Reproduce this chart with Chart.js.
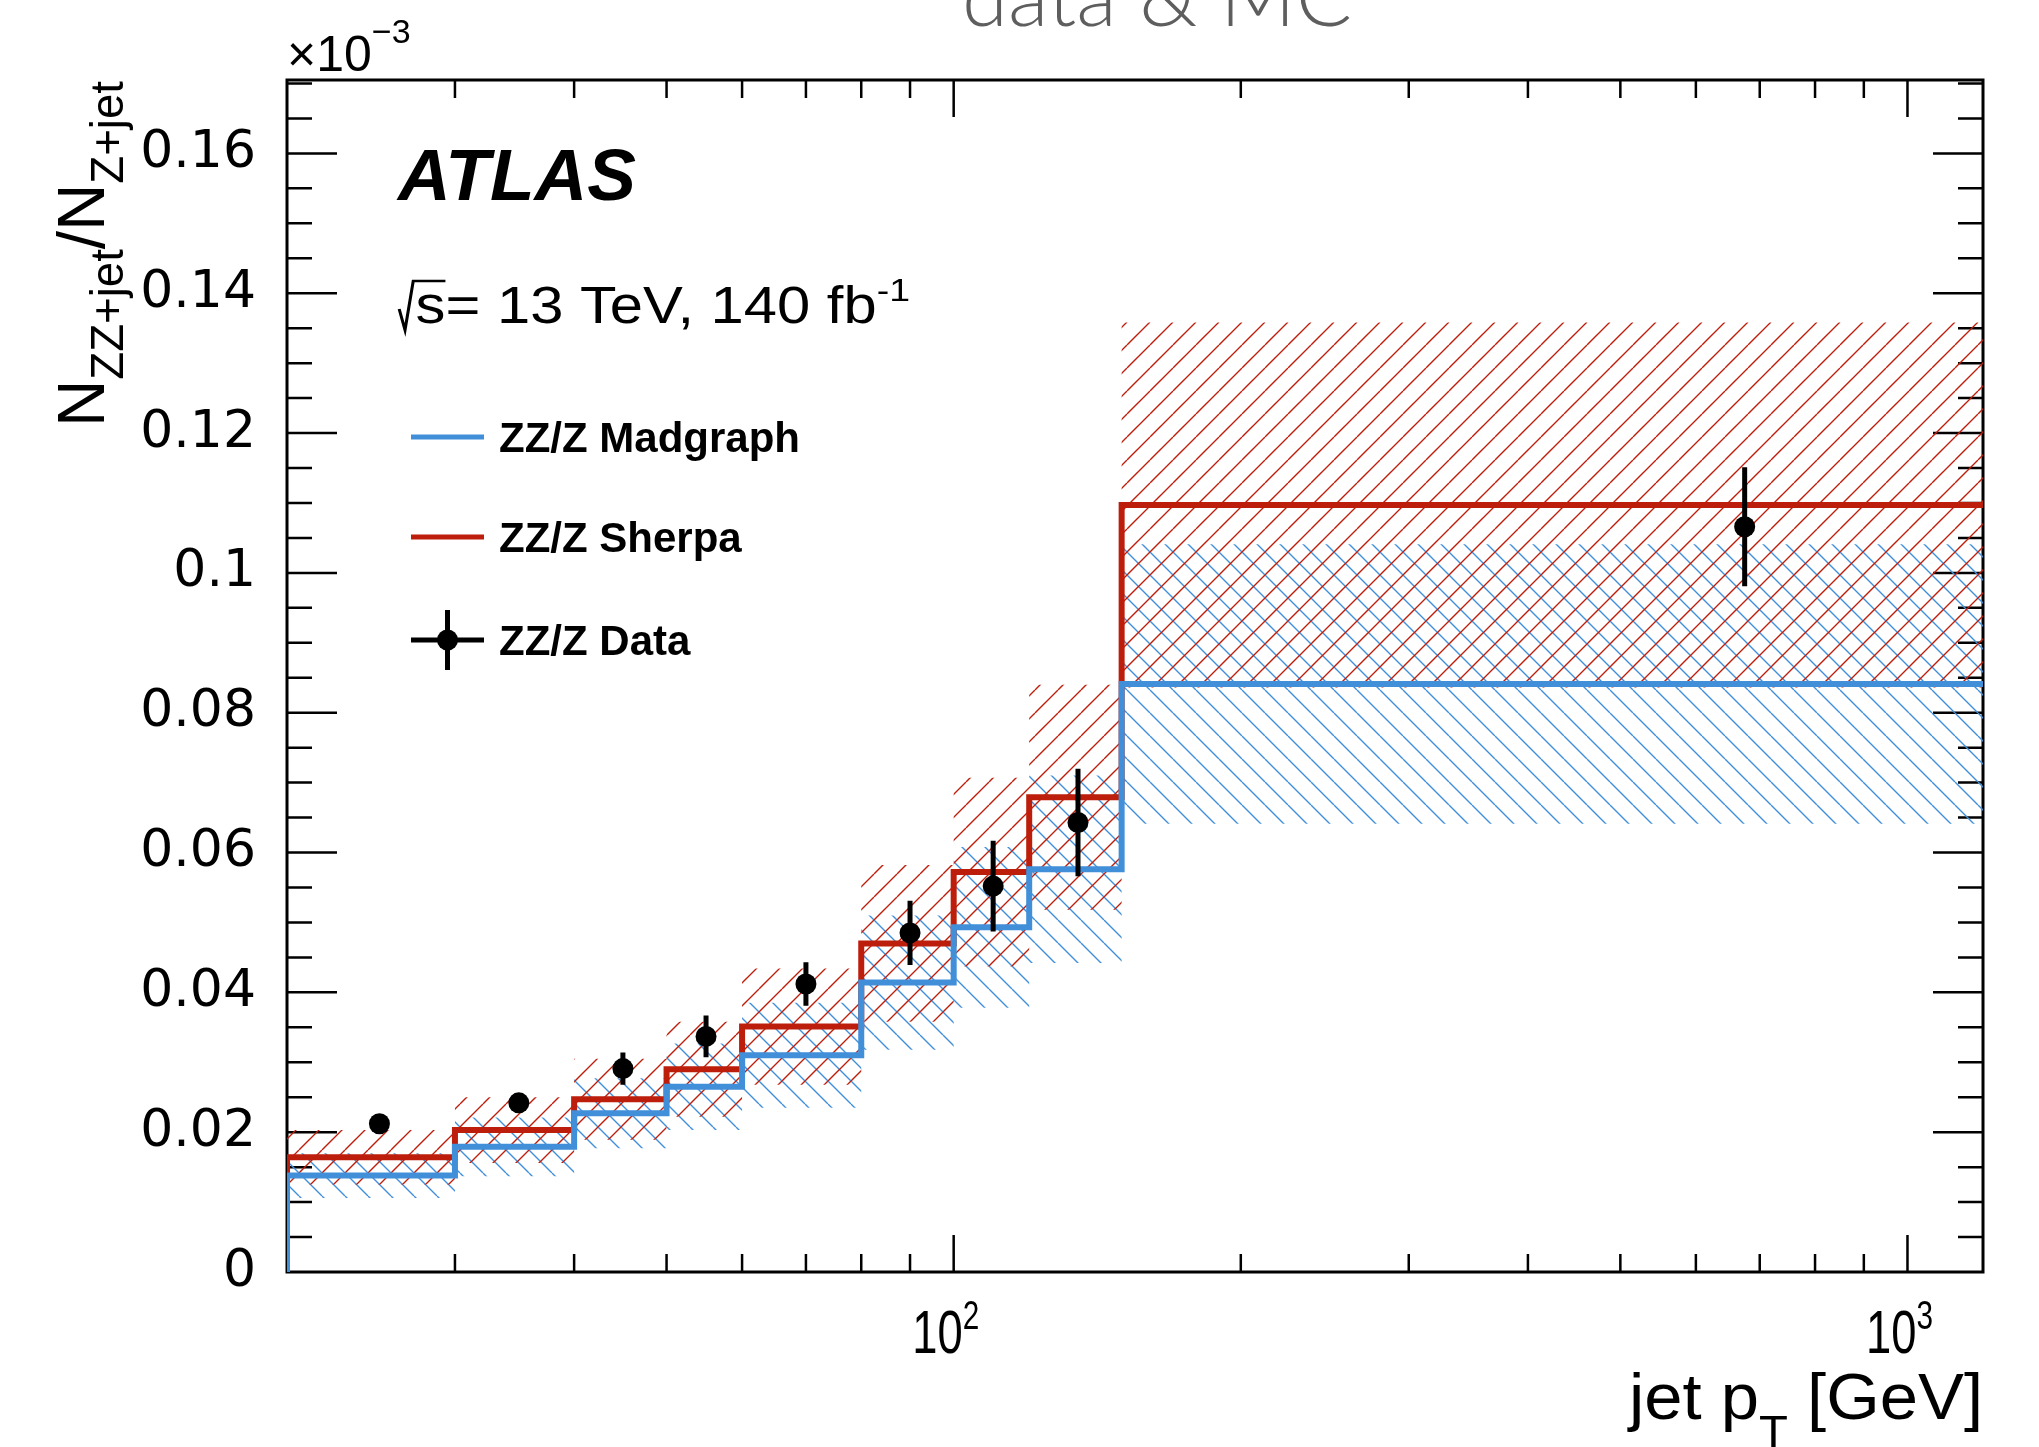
<!DOCTYPE html>
<html>
<head>
<meta charset="utf-8">
<script src="https://cdn.jsdelivr.net/npm/chart.js@4.4.1/dist/chart.umd.min.js"></script>
<style>
  html, body { margin: 0; padding: 0; background: #fff; overflow: hidden; }
  canvas { display: block; }
</style>
</head>
<body>
<canvas id="ratioChart" width="2039" height="1447"></canvas>
<script>
// jet pT bin edges [GeV]
const binEdges = [20, 30, 40, 50, 60, 80, 100, 120, 150, 1200];

// ZZ+jet / Z+jet ratio per bin (axis units, x10^-3)
const sherpaRatio = [0.0164, 0.0203, 0.0247, 0.0290, 0.0351, 0.0470, 0.0572, 0.0679, 0.1097];
const sherpaUnc   = [0.0039, 0.0047, 0.0058, 0.0068, 0.0083, 0.0112, 0.0135, 0.0161, 0.0261];
const madgraphRatio = [0.0138, 0.0179, 0.0227, 0.0265, 0.0310, 0.0414, 0.0493, 0.0576, 0.0841];
const madgraphUnc   = [0.0032, 0.0042, 0.0050, 0.0062, 0.0075, 0.0096, 0.0115, 0.0134, 0.0200];

// measured points at the bin centres
const dataPt    = [25, 35, 45, 55, 70, 90, 110, 135, 675];
const dataRatio = [0.0212, 0.0242, 0.0291, 0.0337, 0.0412, 0.0485, 0.0552, 0.0643, 0.1066];
const dataErr   = [0.0008, 0.0010, 0.0023, 0.0030, 0.0031, 0.0046, 0.0065, 0.0077, 0.0085];

// axis setup
const xMin = 20, xMax = 1200;
const yMax = 0.1705, yStep = 0.02, yMinorStep = 0.005;

const RED = '#bd1e0b';
const BLUE = '#428fd9';
const FONT = 'Liberation Sans, Arial, Helvetica, sans-serif';

const canvas = document.getElementById('ratioChart');
const baseCtx = canvas.getContext('2d');

// diagonal hatching like ROOT fill styles
function hatch(color, rising) {
    const s = 23;
    const tile = document.createElement('canvas');
    tile.width = tile.height = s;
    const g = tile.getContext('2d');
    g.strokeStyle = color;
    g.lineWidth = 1.4;
    g.beginPath();
    for (const o of [-s, 0, s]) {
        if (rising) { g.moveTo(o, s); g.lineTo(o + s, 0); }
        else { g.moveTo(o, 0); g.lineTo(o + s, s); }
    }
    g.stroke();
    return baseCtx.createPattern(tile, 'repeat');
}

// one point per lower bin edge plus the upper edge; stepped lines hold each value to the next edge
function stepPoints(vals) {
    const pts = vals.map((v, i) => ({ x: binEdges[i], y: v }));
    pts.push({ x: binEdges[binEdges.length - 1], y: vals[vals.length - 1] });
    return pts;
}
const histo = vals => [{ x: binEdges[0], y: 0 }, ...stepPoints(vals)];
const upper = (vals, unc) => stepPoints(vals.map((v, i) => v + unc[i]));
const lower = (vals, unc) => stepPoints(vals.map((v, i) => v - unc[i]));

// text with sub/superscripts, optionally squeezed to a given width
function drawRich(ctx, parts, x, y, opt = {}) {
    let total = 0;
    for (const p of parts) {
        ctx.font = p.font;
        p.w = ctx.measureText(p.t).width + (p.rad || 0);
        total += p.w;
    }
    const sx = opt.width ? opt.width / total : 1;
    const span = total * sx;
    const x0 = opt.align === 'right' ? x - span : opt.align === 'center' ? x - span / 2 : x;
    ctx.save();
    ctx.translate(x0, y);
    ctx.scale(sx, 1);
    ctx.fillStyle = opt.color || '#000';
    ctx.strokeStyle = opt.color || '#000';
    ctx.textAlign = 'left';
    ctx.textBaseline = 'alphabetic';
    let cx = 0;
    for (const p of parts) {
        ctx.font = p.font;
        if (p.rad) {
            ctx.lineWidth = 2.6;
            ctx.beginPath();
            ctx.moveTo(cx + 1, -14);
            ctx.lineTo(cx + 6, 7);
            ctx.lineTo(cx + p.rad - 2, -42);
            ctx.lineTo(cx + p.w, -42);
            ctx.stroke();
            ctx.fillText(p.t, cx + p.rad, p.dy || 0);
        } else {
            ctx.fillText(p.t, cx, p.dy || 0);
        }
        cx += p.w;
    }
    ctx.restore();
}

const atlasDecor = {
    id: 'atlasDecor',
    beforeDatasetsDraw(chart) {
        const { ctx, chartArea: a, scales: { x, y } } = chart;
        ctx.save();
        ctx.strokeStyle = '#000';
        ctx.lineWidth = 3;
        ctx.strokeRect(a.left, a.top, a.right - a.left, a.bottom - a.top);

        // ticks point inwards on all four sides
        ctx.lineWidth = 2.5;
        ctx.beginPath();
        for (const t of x.ticks) {
            const m = t.value / Math.pow(10, Math.floor(Math.log10(t.value) + 1e-9));
            if (t.value <= xMin || t.value >= xMax || Math.abs(m - Math.round(m)) > 1e-6) continue;
            const px = x.getPixelForValue(t.value);
            const len = Math.abs(m - 1) < 1e-6 ? 37 : 18;
            ctx.moveTo(px, a.bottom); ctx.lineTo(px, a.bottom - len);
            ctx.moveTo(px, a.top); ctx.lineTo(px, a.top + len);
        }
        const nMinor = Math.floor(yMax / yMinorStep + 1e-9);
        for (let k = 1; k <= nMinor; k++) {
            const py = y.getPixelForValue(k * yMinorStep);
            const len = k % Math.round(yStep / yMinorStep) === 0 ? 50 : 25;
            ctx.moveTo(a.left, py); ctx.lineTo(a.left + len, py);
            ctx.moveTo(a.right, py); ctx.lineTo(a.right - len, py);
        }
        ctx.stroke();
        ctx.restore();
    },
    afterDatasetsDraw(chart) {
        const { ctx, scales: { x, y } } = chart;
        ctx.save();
        ctx.strokeStyle = '#000';
        ctx.lineWidth = 5;
        ctx.beginPath();
        dataPt.forEach((pt, i) => {
            const px = x.getPixelForValue(pt);
            ctx.moveTo(px, y.getPixelForValue(dataRatio[i] - dataErr[i]));
            ctx.lineTo(px, y.getPixelForValue(dataRatio[i] + dataErr[i]));
        });
        ctx.stroke();
        ctx.restore();
    },
    afterDraw(chart) {
        const { ctx, chartArea: a, scales: { x } } = chart;

        // x tick labels at the decades
        for (const t of x.ticks) {
            const e = Math.log10(t.value);
            if (Math.abs(e - Math.round(e)) > 1e-9) continue;
            drawRich(ctx, [
                { t: '10', font: `61px ${FONT}` },
                { t: String(Math.round(e)), font: `40px ${FONT}`, dy: -24 }
            ], x.getPixelForValue(t.value) - 8, 1353, { align: 'center', width: 67 });
        }

        // axis titles
        drawRich(ctx, [
            { t: 'jet p', font: `64px ${FONT}` },
            { t: 'T', font: `44px ${FONT}`, dy: 28 },
            { t: ' [GeV]', font: `64px ${FONT}` }
        ], a.right, 1419, { align: 'right', width: 354 });

        ctx.save();
        ctx.translate(104, a.top + 1);
        ctx.rotate(-Math.PI / 2);
        drawRich(ctx, [
            { t: 'N', font: `66px ${FONT}` },
            { t: 'ZZ+jet', font: `46px ${FONT}`, dy: 19 },
            { t: '/N', font: `66px ${FONT}` },
            { t: 'Z+jet', font: `46px ${FONT}`, dy: 19 }
        ], 0, 0, { align: 'right', width: 346 });
        ctx.restore();

        drawRich(ctx, [
            { t: '\u00d710', font: `50px ${FONT}` },
            { t: '\u22123', font: `34px ${FONT}`, dy: -28 }
        ], a.left, 71);

        // plot title, partly above the page
        drawRich(ctx, [{ t: 'data & MC', font: `300 82px Lato, ${FONT}` }],
            1157, 26, { align: 'center', width: 390, color: '#5e5e5e' });

        drawRich(ctx, [{ t: 'ATLAS', font: `italic bold 72px ${FONT}` }], 398, 200, { width: 238 });
        drawRich(ctx, [
            { t: 's', font: `51px ${FONT}`, rad: 15 },
            { t: '= 13 TeV, 140 fb', font: `51px ${FONT}` },
            { t: '-1', font: `32px ${FONT}`, dy: -22 }
        ], 398, 323, { width: 512 });

        // legend
        const lx0 = 411, lx1 = 484, tx = 499;
        const entries = [
            { label: 'ZZ/Z Madgraph', color: BLUE, y: 437 },
            { label: 'ZZ/Z Sherpa', color: RED, y: 537 },
            { label: 'ZZ/Z Data', color: '#000', y: 640, marker: true }
        ];
        ctx.save();
        for (const e of entries) {
            ctx.strokeStyle = e.color;
            ctx.lineWidth = 5;
            ctx.beginPath();
            ctx.moveTo(lx0, e.y); ctx.lineTo(lx1, e.y);
            if (e.marker) {
                const mx = (lx0 + lx1) / 2;
                ctx.moveTo(mx, e.y - 30); ctx.lineTo(mx, e.y + 30);
            }
            ctx.stroke();
            if (e.marker) {
                ctx.fillStyle = '#000';
                ctx.beginPath();
                ctx.arc((lx0 + lx1) / 2, e.y, 10.5, 0, Math.PI * 2);
                ctx.fill();
            }
            drawRich(ctx, [{ t: e.label, font: `bold 42px ${FONT}` }], tx, e.y + 15);
        }
        ctx.restore();
    }
};

Chart.defaults.font.family = FONT;

new Chart(canvas, {
    type: 'line',
    data: {
        datasets: [
            {
                label: 'Madgraph band',
                data: upper(madgraphRatio, madgraphUnc),
                stepped: 'before',
                borderColor: 'rgba(0,0,0,0)',
                borderWidth: 1,
                pointRadius: 0,
                backgroundColor: hatch(BLUE, false),
                fill: '+1',
                order: 10
            },
            {
                label: 'Madgraph band low',
                data: lower(madgraphRatio, madgraphUnc),
                stepped: 'before',
                borderColor: 'rgba(0,0,0,0)',
                borderWidth: 1,
                pointRadius: 0,
                fill: false,
                order: 10
            },
            {
                label: 'Sherpa band',
                data: upper(sherpaRatio, sherpaUnc),
                stepped: 'before',
                borderColor: 'rgba(0,0,0,0)',
                borderWidth: 1,
                pointRadius: 0,
                backgroundColor: hatch(RED, true),
                fill: '+1',
                order: 9
            },
            {
                label: 'Sherpa band low',
                data: lower(sherpaRatio, sherpaUnc),
                stepped: 'before',
                borderColor: 'rgba(0,0,0,0)',
                borderWidth: 1,
                pointRadius: 0,
                fill: false,
                order: 9
            },
            {
                label: 'ZZ/Z Sherpa',
                data: histo(sherpaRatio),
                stepped: 'before',
                borderColor: RED,
                borderWidth: 6,
                borderCapStyle: 'square',
                pointRadius: 0,
                fill: false,
                order: 8
            },
            {
                label: 'ZZ/Z Madgraph',
                data: histo(madgraphRatio),
                stepped: 'before',
                borderColor: BLUE,
                borderWidth: 6,
                borderCapStyle: 'square',
                pointRadius: 0,
                fill: false,
                order: 7
            },
            {
                label: 'ZZ/Z Data',
                data: dataPt.map((pt, i) => ({ x: pt, y: dataRatio[i] })),
                showLine: false,
                pointRadius: 10.5,
                pointBackgroundColor: '#000',
                pointBorderWidth: 0,
                order: 1
            }
        ]
    },
    options: {
        responsive: false,
        devicePixelRatio: 1,
        animation: false,
        events: [],
        layout: { padding: { left: 0, right: 56, top: 80, bottom: 0 } },
        plugins: { legend: { display: false }, tooltip: { enabled: false } },
        scales: {
            x: {
                type: 'logarithmic',
                min: xMin,
                max: xMax,
                grid: { display: false, drawTicks: false },
                border: { display: false },
                ticks: { display: false },
                afterFit: s => { s.height = 175; }
            },
            y: {
                type: 'linear',
                min: 0,
                max: yMax,
                grid: { display: false, drawTicks: false },
                border: { display: false },
                ticks: {
                    stepSize: yStep,
                    includeBounds: false,
                    padding: 31,
                    color: '#000',
                    font: { family: 'DejaVu Sans', size: 52 },
                    callback: v => String(+v.toFixed(2))
                },
                afterFit: s => { s.width = 287; }
            }
        }
    },
    plugins: [atlasDecor]
});
</script>
</body>
</html>
